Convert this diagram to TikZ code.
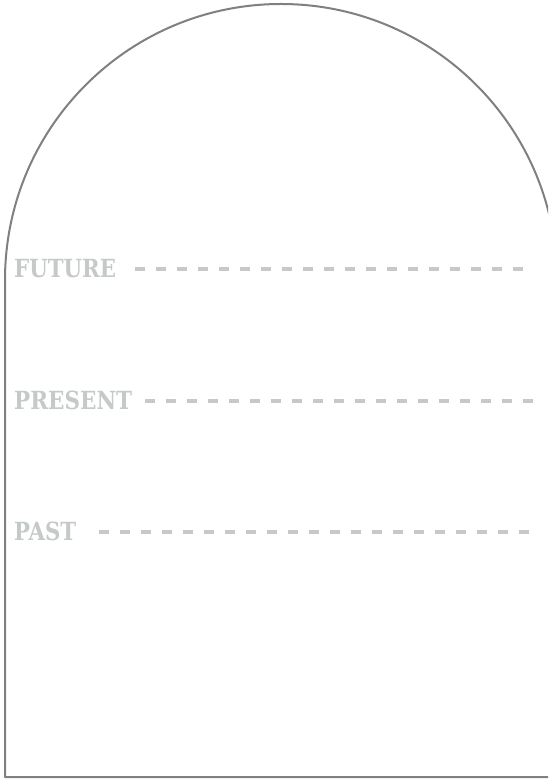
\documentclass[tikz,border=0pt]{standalone}
\usepackage{fontspec}
\newfontfamily\slab{DejaVu Serif}
\definecolor{framegray}{HTML}{808080}
\definecolor{lblgray}{HTML}{C5CAC9}
\tikzset{
  frame/.style={draw=framegray, line width=2pt, line join=round},
  lbl/.style={text=lblgray, font=\slab\bfseries\fontsize{25}{25}\selectfont, inner sep=0pt, anchor=base west},
  dl/.style={draw=lblgray, line width=3.2pt, dash pattern=on 10pt off 11pt}
}
\begin{document}
\begin{tikzpicture}[x=1pt,y=-1pt]
\useasboundingbox (0,0) rectangle (548,783);
\fill[white] (0,0) rectangle (548,783);
\clip (0,0) rectangle (548,783);
\draw[frame] (5,777) -- (5,280) arc[start angle=180,end angle=360,radius=276] -- (557,777) -- cycle;
\node[lbl] (fut) at (14,277) {\scalebox{0.85}[1]{FUTURE}};
\node[lbl] (pre) at (14,409) {\scalebox{0.86}[1]{PRESENT}};
\node[lbl] (pas) at (14,540) {\scalebox{0.85}[1]{PAST}};
\coordinate (futs) at (135,269);
\coordinate (fute) at (530,269);
\coordinate (pres) at (145,401);
\coordinate (pree) at (542,401);
\coordinate (pass) at (99,532);
\coordinate (pase) at (534,532);
\draw[dl] (futs) -- (fute);
\draw[dl] (pres) -- (pree);
\draw[dl] (pass) -- (pase);
\end{tikzpicture}
\end{document}
